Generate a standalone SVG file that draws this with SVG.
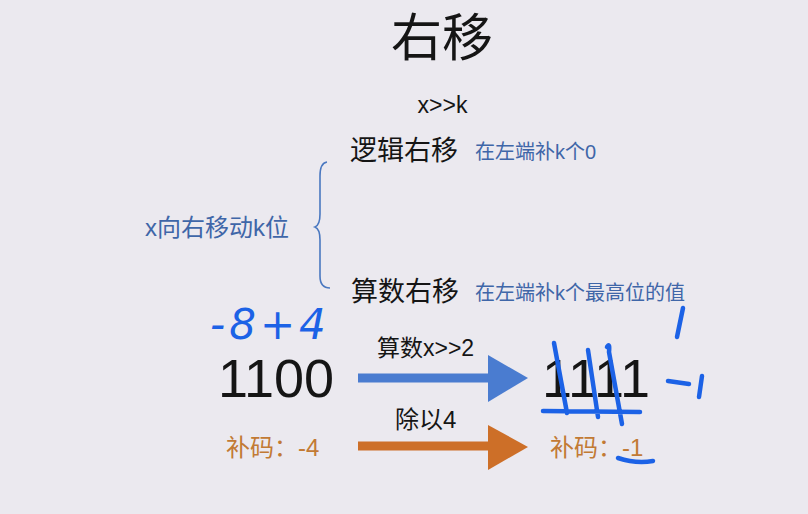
<svg xmlns="http://www.w3.org/2000/svg" width="808" height="514" viewBox="0 0 808 514">
<defs>
<style>
.f{font-family:"Liberation Sans","Noto Sans CJK SC",sans-serif}
.k{fill:#151515}
.b{fill:#3f66a8}
.o{fill:#c27a34}
.hwt{font-family:"DejaVu Sans",sans-serif;font-style:italic;fill:#1c62e6}
.hw{fill:none;stroke:#1c62e6;stroke-width:4.5;stroke-linecap:round;stroke-linejoin:round}
</style>
</defs>
<rect width="808" height="514" fill="#ebe9ef"/>
<g id="title"><text class="f k" x="442" y="56" font-size="51" text-anchor="middle">右移</text></g>
<g id="expr"><text class="f k" x="442.5" y="113" font-size="23" text-anchor="middle">x&gt;&gt;k</text></g>
<g id="brace-label"><text class="f b" x="145" y="236" font-size="24">x向右移动k位</text></g>
<g id="logical"><text class="f k" x="350" y="160" font-size="27">逻辑右移</text><text class="f b" x="475" y="159" font-size="20">在左端补k个0</text></g>
<g id="arith"><text class="f k" x="351" y="301" font-size="27">算数右移</text><text class="f b" x="475" y="300" font-size="20">在左端补k个最高位的值</text></g>
<g id="connectors">
<path d="M327,162 Q320,163 320,176 L320,214 Q320,225 315,227 Q320,229 320,240 L320,276 Q320,288 330,288" fill="none" stroke="#4a78c0" stroke-width="1.6"/>
<path d="M358,378 L490,378" stroke="#4a7cd0" stroke-width="9" fill="none"/>
<polygon points="488,355 528,378 488,402" fill="#4a7cd0"/>
<path d="M358,446 L490,446" stroke="#cd6f28" stroke-width="9" fill="none"/>
<polygon points="488,425 528,447 488,470" fill="#cd6f28"/>
</g>
<g id="n1100"><text class="f k" x="218" y="397" font-size="54">1100</text></g>
<g id="lbl-shift"><text class="f k" x="377" y="356" font-size="23">算数x&gt;&gt;2</text></g>
<g id="n1111"><text class="f k" x="542" y="397" font-size="54">1111</text></g>
<g id="lbl-div"><text class="f k" x="395" y="428" font-size="24">除以4</text></g>
<g id="c-4"><text class="f o" x="226" y="456" font-size="24">补码：-4</text></g>
<g id="c-1"><text class="f o" x="550" y="456" font-size="24">补码：-1</text></g>
<g id="handwriting">
<text class="hwt" x="210" y="339" font-size="42" letter-spacing="4">-8+4</text>
<path class="hw" d="M683,308 L677,337"/>
<path class="hw" d="M668,381 L689,384 M702,376 L699,397"/>
<path class="hw" d="M554,343 L567,413 M588,350 L598,417 M607,347 Q610,342 609,352 L622,424 M543,411 L640,412"/>
<path class="hw" d="M618,458 Q636,464 653,461"/>
</g>
</svg>
